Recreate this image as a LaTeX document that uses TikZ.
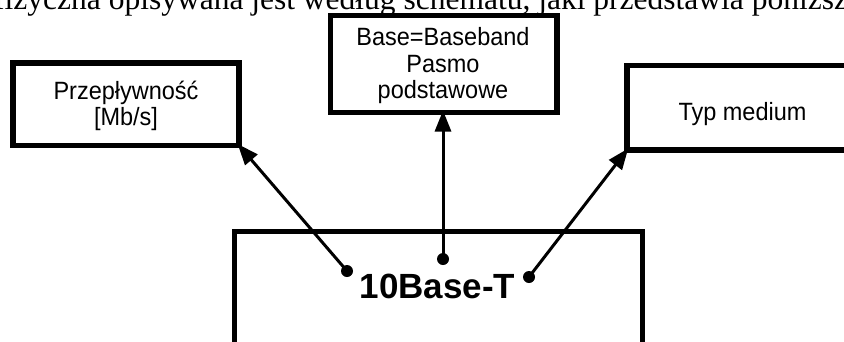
\documentclass[tikz,border=0pt]{standalone}
\usepackage{fontspec}
\setmainfont{Liberation Sans}
\newfontfamily\bodyserif{Liberation Serif}
\newfontfamily\boxfont[FakeStretch=0.94]{Liberation Sans}
\usetikzlibrary{arrows.meta}

\begin{document}
\begin{tikzpicture}[x=1pt,y=-1pt,
  box/.style={draw=black,line width=5.5pt,fill=white,inner sep=0pt,outer sep=0pt,rectangle},
  lbl/.style={inner sep=0pt,font=\boxfont\fontsize{25}{28}\selectfont,anchor=base},
  dot/.style={circle,fill=black,inner sep=0pt,minimum size=12pt},
  arr/.style={line width=3pt,-{Triangle[length=21pt,width=16pt]},shorten >=-2pt}
]
\useasboundingbox (0,0) rectangle (844,341);
\clip (0,0) rectangle (844,341);

% running text line above the figure
\node[inner sep=0pt,anchor=base west,font=\bodyserif\fontsize{31.5}{36}\selectfont] (caption)
  at (-6,9.5) {fizyczna opisywana jest według schematu, jaki przedstawia poniższy};

% the three description boxes
\node[box,minimum width=226pt,minimum height=82.5pt] (rate) at (126,104.25) {};
\node[lbl] (rate1) at (126,99) {Przepływność};
\node[lbl] (rate2) at (126,125) {[Mb/s]};

\node[box,minimum width=226.5pt,minimum height=97pt] (band) at (443.75,64) {};
\node[lbl] (band1) at (443,45.7) {Base=Baseband};
\node[lbl] (band2) at (443,72.3) {Pasmo};
\node[lbl] (band3) at (443,98.3) {podstawowe};

\node[box,minimum width=233pt,minimum height=84.5pt] (medium) at (743.5,107.75) {};
\node[lbl] (medium1) at (742.5,120) {Typ medium};

% the standard name box
\node[box,line width=5pt,minimum width=407.5pt,minimum height=169pt] (std) at (438.25,315.5) {};
\node[inner sep=0pt,anchor=base,font=\fontsize{35}{40}\selectfont\bfseries] (name) at (437.5,298) {10Base-T};

% pointers from the parts of the name
\node[dot] (d1) at (347,271) {};
\node[dot] (d2) at (443,259) {};
\node[dot] (d3) at (529,277) {};

\draw[arr] (d1.center) -- (rate.south east);
\draw[arr] (d2.center) -- (d2.center |- band.south);
\draw[arr] (d3.center) -- (medium.south west);
\end{tikzpicture}
\end{document}
